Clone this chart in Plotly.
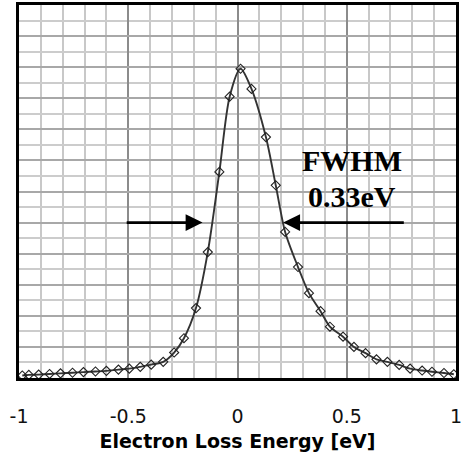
import plotly.graph_objects as go

energy = [-0.985, -0.955, -0.91, -0.86, -0.81, -0.755, -0.705, -0.65, -0.6, -0.545,
          -0.495, -0.445, -0.395, -0.34, -0.29, -0.245, -0.19, -0.136, -0.083, -0.036,
          0.014, 0.064, 0.13, 0.175, 0.218, 0.277, 0.327, 0.38, 0.423, 0.483,
          0.533, 0.586, 0.636, 0.686, 0.74, 0.79, 0.845, 0.89, 0.945, 0.99]
intensity = [0.008, 0.010, 0.011, 0.013, 0.015, 0.017, 0.019, 0.021, 0.023, 0.027,
             0.030, 0.036, 0.043, 0.052, 0.082, 0.128, 0.225, 0.405, 0.663, 0.905,
             0.995, 0.93, 0.775, 0.62, 0.47, 0.357, 0.273, 0.215, 0.165, 0.133,
             0.100, 0.080, 0.060, 0.052, 0.042, 0.030, 0.024, 0.020, 0.016, 0.012]

tick_vals = [-1, -0.5, 0, 0.5, 1]
tick_text = ["-1", "-0.5", "0", "0.5", "1"]

half_max = 0.5
fwhm_left = -0.16
fwhm_right = 0.209
arrow_left_start = -0.514
arrow_right_start = 0.768
label_lines = ["FWHM", "0.33eV"]

fig = go.Figure()
fig.add_trace(go.Scatter(
    x=energy, y=intensity, mode="lines+markers",
    line=dict(color="#333333", width=1.9, shape="spline", smoothing=0.8),
    marker=dict(symbol="diamond-open", size=7, color="#222222", line=dict(width=1.1)),
    showlegend=False, hoverinfo="skip", cliponaxis=False,
))

arrow_common = dict(xref="x", yref="y", axref="x", ayref="y", showarrow=True,
                    arrowhead=2, arrowsize=1.3, arrowwidth=2.6, arrowcolor="black",
                    text="", standoff=0)
fig.add_annotation(x=fwhm_left, y=half_max, ax=arrow_left_start, ay=half_max, **arrow_common)
fig.add_annotation(x=fwhm_right, y=half_max, ax=arrow_right_start, ay=half_max, **arrow_common)

fig.add_annotation(x=0.523, y=0.70, xref="x", yref="y", text="<b>%s</b>" % label_lines[0],
                   showarrow=False, font=dict(family="Liberation Serif", size=30, color="black"))
fig.add_annotation(x=0.523, y=0.585, xref="x", yref="y", text="<b>%s</b>" % label_lines[1],
                   showarrow=False, font=dict(family="Liberation Serif", size=30, color="black"))

fig.update_layout(
    width=463, height=454,
    margin=dict(l=19, r=7, t=5, b=76),
    paper_bgcolor="white", plot_bgcolor="white",
    font=dict(family="DejaVu Sans", color="black"),
)
fig.update_xaxes(
    range=[-1, 1], tickvals=tick_vals, ticktext=tick_text, automargin=False,
    showgrid=True, gridcolor="#8c8c8c", gridwidth=1.5,
    minor=dict(dtick=0.1, showgrid=True, gridcolor="#c8c8c8", gridwidth=1.5),
    zeroline=False, showline=True, linecolor="black", linewidth=3, mirror=True,
    ticks="", ticklabelstandoff=19, tickfont=dict(size=19, family="DejaVu Sans", color="#111111"),
    title=dict(text="<b>Electron Loss Energy [eV]</b>", font=dict(size=19, family="DejaVu Sans"), standoff=9),
)
fig.update_yaxes(
    range=[0, 1.2], dtick=0.1, showticklabels=False, automargin=False,
    showgrid=True, gridcolor="#a8a8a8", gridwidth=1.5,
    minor=dict(dtick=0.05, showgrid=True, gridcolor="#cccccc", gridwidth=1.5),
    zeroline=False, showline=True, linecolor="black", linewidth=3, mirror=True, ticks="",
)

fig.write_html("out.html", config={"displayModeBar": False},
               post_script="document.body.style.margin='0';document.body.style.overflow='hidden';")
